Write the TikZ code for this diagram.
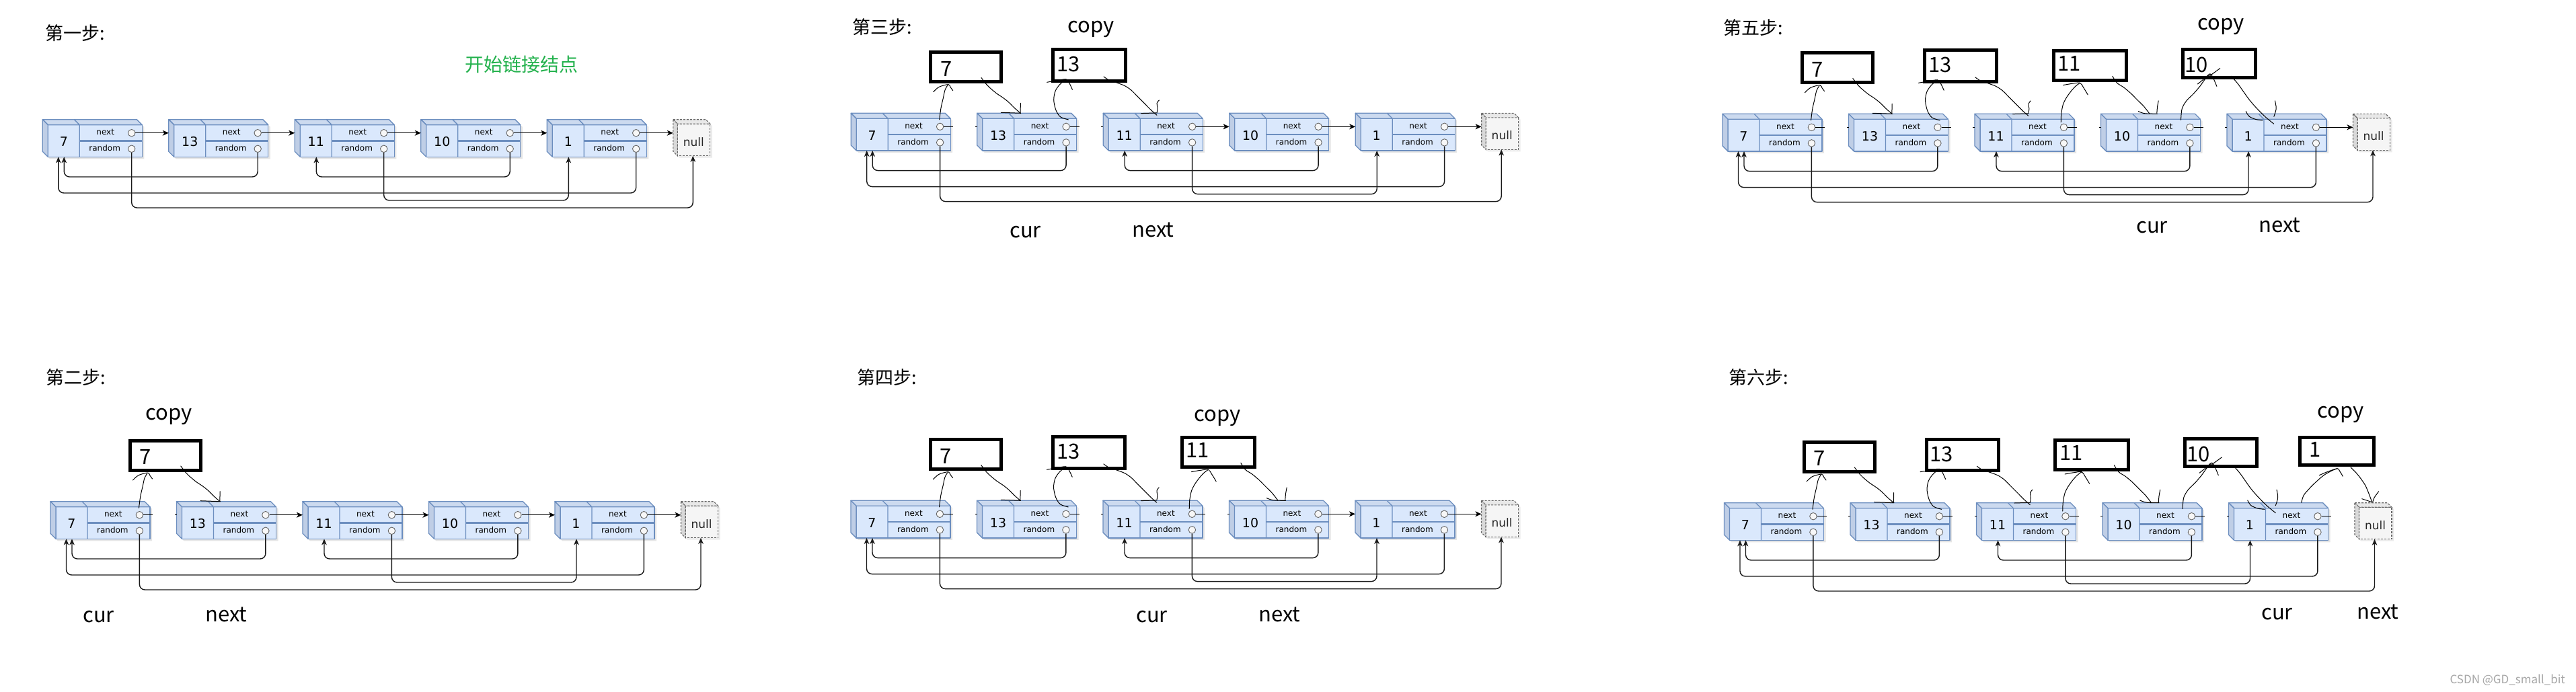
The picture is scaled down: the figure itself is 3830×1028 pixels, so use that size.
\documentclass[tikz,border=0pt]{standalone}
\usepackage{fontspec}
\newfontfamily\cjkf{Noto Sans CJK SC}
\newfontfamily\nodef{DejaVu Sans}
\usetikzlibrary{arrows.meta}
\definecolor{nfront}{HTML}{DAE8FC}
\definecolor{ntop}{HTML}{CCDAEF}
\definecolor{nleft}{HTML}{BFCEE6}
\definecolor{nstroke}{HTML}{6C8EBF}
\definecolor{nullfill}{HTML}{F5F5F5}
\definecolor{nulltop}{HTML}{E8E8E8}
\definecolor{nullleft}{HTML}{D9D9D9}
\definecolor{nullstroke}{HTML}{666666}
\definecolor{portfill}{HTML}{F7F7F7}
\definecolor{greentext}{HTML}{22B14C}
\definecolor{wmark}{HTML}{A6A6A6}
\tikzset{
  cubeline/.style={draw=nstroke, line width=1.3pt, line join=round},
  nullline/.style={draw=nullstroke, line width=1.1pt, dash pattern=on 3pt off 2pt},
  port/.style={circle, draw=nullstroke, fill=portfill, line width=0.9pt, minimum size=10.5pt, inner sep=0pt},
  fieldtext/.style={font=\nodef\fontsize{12}{14}\selectfont, inner sep=0pt, text height=6.5pt, text depth=0pt},
  valtext/.style={font=\nodef\fontsize{19}{22}\selectfont, inner sep=0pt},
  nulltext/.style={font=\nodef\fontsize{17}{20}\selectfont, inner sep=0pt, text=black!85},
  link/.style={draw=black, line width=1.3pt, -{Stealth[length=9pt,width=8pt,inset=2.5pt]}},
  stub/.style={draw=black, line width=1.3pt},
  rlink/.style={draw=black!90, line width=1.4pt, rounded corners=8pt, -{Stealth[length=9pt,width=7.5pt,inset=2.5pt]}},
  copybox/.style={draw=black, line width=5pt, fill=white, inner sep=0pt},
  boxnum/.style={font=\cjkf\fontsize{31}{36}\selectfont, inner sep=0pt},
  hand/.style={draw=black, line width=1pt, line cap=round, line join=round},
  title/.style={font=\cjkf\fontsize{27}{32}\selectfont, inner sep=0pt, anchor=base west},
  lbl/.style={font=\cjkf\fontsize{31}{36}\selectfont, inner sep=0pt, anchor=base west},
}
\newcommand\handpair[1]{%
\ifcase#1\relax
 \draw[hand] plot[smooth] coordinates {(131.5,9.6) (133.8,-7.7) (137.2,-22.7) (139.8,-34.4) (143.8,-41.7)};
 \draw[hand] plot[smooth] coordinates {(122.5,-31.7) (131,-39) (144.8,-42.7) (148,-38.5) (151.5,-33.7)};
 \draw[hand] plot[smooth] coordinates {(193.8,-52.7) (201.5,-42.7) (206.5,-37.7) (216.5,-29.4) (226.5,-22.7) (234.8,-16) (243.2,-7.7) (251.5,-0.4)};
 \draw[hand] (223.2,-1) -- (252.5,0) (252.2,-15) -- (251.8,0);
\or
 \draw[hand] plot[smooth] coordinates {(323.2,9.6) (311.5,5.6) (304.8,-4.4) (301.5,-19.4) (303.8,-32.7) (310.5,-42.7) (319.8,-50.4)};
 \draw[hand] plot[smooth] coordinates {(291.5,-46) (306.5,-48.6) (319.8,-50.4) (324.8,-44.4) (329.2,-35)};
 \draw[hand] plot[smooth] coordinates {(375.8,-54.4) (383.2,-49.4) (393.2,-46) (406.5,-41) (416.5,-34.4) (426.5,-24.4) (436.5,-14.4) (446.5,-4.4) (454.8,3)};
 \draw[hand] (431.5,0.3) -- (454.8,-0.4);
 \draw[hand] plot[smooth] coordinates {(458.2,-19.4) (455,-15) (455.8,-7.7) (455,-1)};
\or
 \draw[hand] plot[smooth] coordinates {(503.2,12.3) (503.8,-1) (506.5,-14.4) (511.5,-24.4) (518.2,-33.7) (524.8,-41) (531.5,-46)};
 \draw[hand] plot[smooth] coordinates {(506.5,-42.7) (519.8,-45) (531.5,-46) (536.5,-39.4) (543.2,-28.4)};
 \draw[hand] plot[smooth] coordinates {(579.8,-56) (586.5,-46) (596.5,-39.4) (606.5,-31) (616.5,-21) (626.5,-11) (634.8,-0.4)};
 \draw[hand] plot[smooth] coordinates {(618.2,-3.7) (628,-0.5) (646.5,0)};
 \draw[hand] plot[smooth] coordinates {(648.2,-19.4) (646.5,-10) (645.8,-1)};
\or
 \draw[hand] plot[smooth] coordinates {(681.5,9) (683.2,-7.7) (689.8,-19.4) (699.8,-29.4) (709.8,-41) (718.2,-52.7) (724.8,-59.4)};
 \draw[hand] plot[smooth] coordinates {(706.5,-44.4) (716,-52) (724.8,-59.4) (729.8,-52.7) (734.8,-41)};
 \draw[hand] (739.8,-67.7) -- (721.5,-54.4);
 \draw[hand] plot[smooth] coordinates {(756.5,-56) (766.5,-44.4) (774.8,-32.7) (783.2,-21) (793.2,-9.4) (806.5,4) (819.8,15)};
 \draw[hand] plot[smooth] coordinates {(778.2,-3.7) (783.2,3.9) (793.2,8.3) (803.2,9.6)};
 \draw[hand] plot[smooth] coordinates {(821.5,-19.4) (823.2,-7.7) (819.8,4)};
\or
 \draw[hand] plot[smooth] coordinates {(858.2,-0.4) (861.5,-11) (869.8,-21) (879.8,-31) (891.5,-41) (903.2,-47.7) (911.5,-51)};
 \draw[hand] plot[smooth] coordinates {(884.8,-41) (896.5,-46) (911.5,-51) (914.8,-47.7) (919.8,-39.4)};
 \draw[hand] plot[smooth] coordinates {(931.5,-52.7) (939.8,-44.4) (946.5,-36) (953.2,-26) (958.2,-14.4) (963.2,-1)};
 \draw[hand] (948.2,-6) -- (963.2,-1);
 \draw[hand] plot[smooth] coordinates {(973.2,-17) (966.5,-7.7) (964.2,-1)};
\fi}
\newcommand\listpanel[4]{%
\begin{scope}[shift={(#2,#3)}]
 \foreach \k/\v in {0/7,1/13,2/11,3/10,4/1}{%
  \begin{scope}[shift={(\k*187.5,0)}]
   \fill[black,opacity=0.1] (3,3) -- (143,3) -- (151,11) -- (151,58.6) -- (11,58.6) -- (3,50.6) -- cycle;
   \path[cubeline, fill=nfront] (8,8) rectangle (148,55.6);
   \path[cubeline, fill=ntop] (0,0) -- (140,0) -- (148,8) -- (8,8) -- cycle;
   \path[cubeline, fill=nleft] (0,0) -- (8,8) -- (8,55.6) -- (0,47.6) -- cycle;
   \draw[cubeline] (47,0) -- (55,8) -- (55,55.6);
   \draw[cubeline, line width=2.2pt] (55,31.8) -- (148,31.8);
   \node[valtext] (#1v\k) at (31.5,33) {\v};
   \node[fieldtext] (#1f\k) at (93.4,20) {next};
   \node[fieldtext] (#1g\k) at (92.4,44) {random};
   \node[port] (#1n\k) at (132.4,20) {};
   \node[port] (#1r\k) at (132.4,43.6) {};
   \coordinate (#1w\k) at (0,20);
   \coordinate (#1b\k) at (32,55.6);
   \coordinate (#1c\k) at (23.5,55.6);
  \end{scope}}
 \begin{scope}[shift={(937.5,0)}]
   \fill[black,opacity=0.08] (3,3) -- (51.5,3) -- (58,9.5) -- (58,57) -- (9.5,57) -- (3,50.5) -- cycle;
   \path[nullline, fill=nullfill] (6.5,6.5) rectangle (55,54);
   \path[nullline, fill=nulltop] (0,0) -- (48.5,0) -- (55,6.5) -- (6.5,6.5) -- cycle;
   \path[nullline, fill=nullleft] (0,0) -- (6.5,6.5) -- (6.5,54) -- (0,47.5) -- cycle;
   \node[nulltext] (#1null) at (30.5,33) {null};
   \coordinate (#1w5) at (0,20);
   \coordinate (#1b5) at (29.5,54);
 \end{scope}
 \coordinate (#1L1) at (0,85.3);
 \coordinate (#1L2) at (0,109.3);
 \coordinate (#1L3) at (0,120.3);
 \coordinate (#1L4) at (0,131.3);
 \foreach \k [evaluate=\k as \j using int(\k+1)] in {0,...,4}{%
   \ifnum\k<#4\relax
     \draw[stub] (#1n\k.east) -- ++(14,0);
     \ifnum\k<4 \draw[stub] (#1w\j) -- ++(-3,0);\fi
   \else
     \draw[link] (#1n\k.east) -- (#1w\j);
   \fi}
 \draw[rlink] (#1r1.south) -- (#1r1.south |- #1L1) -| (#1b0);
 \draw[rlink] (#1r3.south) -- (#1r3.south |- #1L1) -| (#1b2);
 \draw[rlink] (#1r4.south) -- (#1r4.south |- #1L2) -| (#1c0);
 \draw[rlink] (#1r2.south) -- (#1r2.south |- #1L3) -| (#1b4);
 \draw[rlink] (#1r0.south) -- (#1r0.south |- #1L4) -| (#1b5);
 \foreach \k/\cx/\cy/\w/\h/\t/\tx/\ty in {0/171.1/-68.5/105/44.3/7/141.5/-66, 1/354.2/-71.3/107.4/46.3/13/323.2/-72.7, 2/546.5/-71.5/108.7/44.3/11/515.8/-74.4, 3/738.6/-74.7/107.6/41.3/10/704.8/-72.7, 4/910.7/-76.5/110.3/41/1/878.2/-79.4}{%
   \ifnum\k<#4\relax
     \node[copybox, minimum width=\w pt, minimum height=\h pt] (#1box\k) at (\cx,\cy) {};
     \node[boxnum] (#1num\k) at (\tx,\ty) {\t};
   \fi}
 \foreach \k in {0,...,4}{\ifnum\k<#4\relax \handpair{\k}\fi}
\end{scope}}
\begin{document}
\begin{tikzpicture}[x=1pt,y=-1pt]
\fill[white] (0,0) rectangle (3830,1028);
\useasboundingbox (0,0) rectangle (3830,1028);
\listpanel{P1}{63.3}{177.7}{0}
\listpanel{P2}{75}{745.7}{1}
\listpanel{P3}{1265.2}{168.3}{2}
\listpanel{P4}{1265}{744.3}{3}
\listpanel{P5}{2561}{169.3}{4}
\listpanel{P6}{2563.5}{747.7}{5}
% titles
\node[title] (t1) at (67,59) {第一步:};
\node[title] (t2) at (68,571.5) {第二步:};
\node[title] (t3) at (1267,50) {第三步:};
\node[title] (t4) at (1274,571.5) {第四步:};
\node[title] (t5) at (2562,51.5) {第五步:};
\node[title] (t6) at (2570,571.5) {第六步:};
\node[title, text=greentext, font=\cjkf\fontsize{28}{32}\selectfont] (green) at (691,106) {开始链接结点};
% copy labels
\node[lbl] (copy2) at (216,624) {copy};
\node[lbl] (copy3) at (1587,48.5) {copy};
\node[lbl] (copy4) at (1775,626.7) {copy};
\node[lbl] (copy5) at (3267,44) {copy};
\node[lbl] (copy6) at (3445,621.7) {copy};
% cur / next labels
\node[lbl] (cur2) at (123,925) {cur};
\node[lbl] (nxt2) at (305,924) {next};
\node[lbl] (cur3) at (1501,353) {cur};
\node[lbl] (nxt3) at (1683,352) {next};
\node[lbl] (cur4) at (1689,925) {cur};
\node[lbl] (nxt4) at (1871,924) {next};
\node[lbl] (cur5) at (3176,346.5) {cur};
\node[lbl] (nxt5) at (3358,345.5) {next};
\node[lbl] (cur6) at (3362,921.5) {cur};
\node[lbl] (nxt6) at (3504,920) {next};
% watermark
\node[font=\cjkf\fontsize{17}{20}\selectfont, text=wmark, inner sep=0pt, anchor=east] (wm) at (3814,1011) {CSDN @GD\_small\_bit};
\end{tikzpicture}
\end{document}
